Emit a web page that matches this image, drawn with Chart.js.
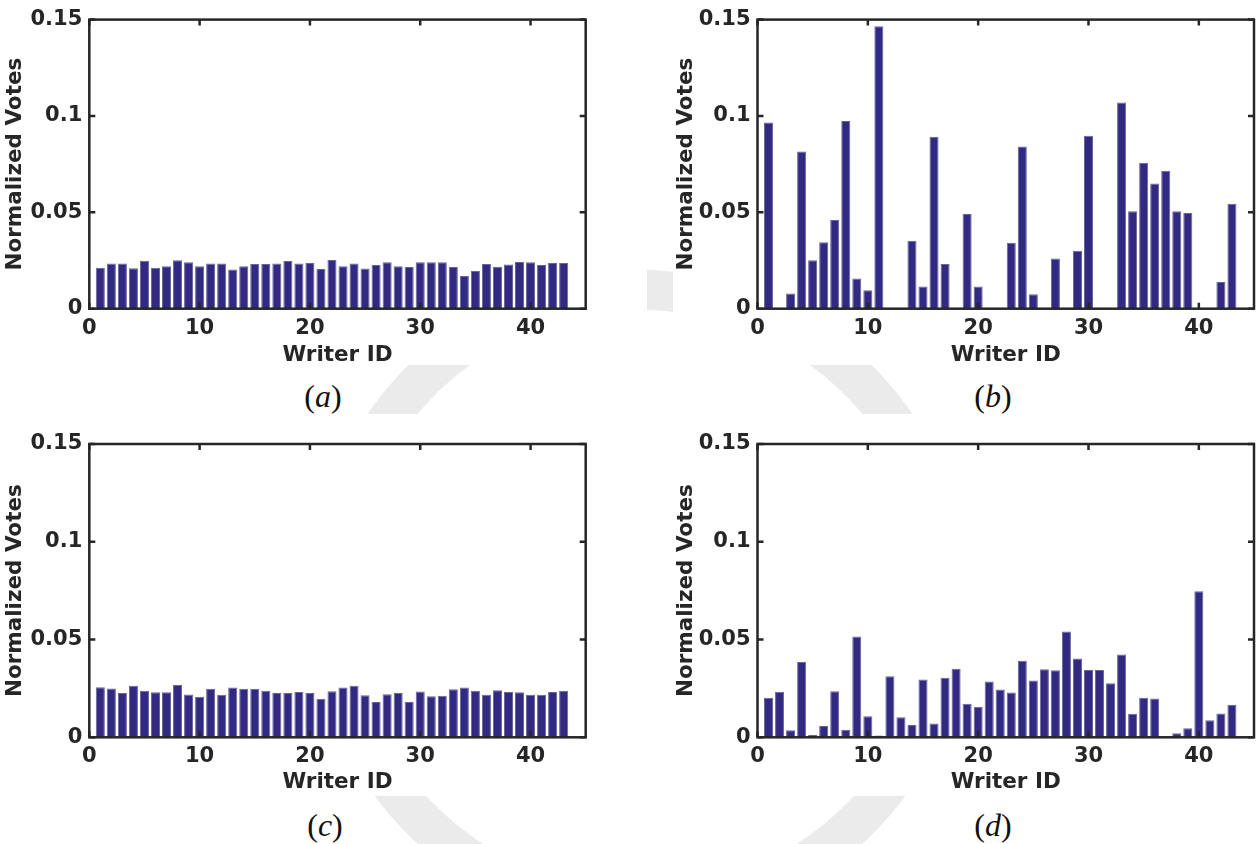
<!DOCTYPE html>
<html>
<head>
<meta charset="utf-8">
<script src="https://cdn.jsdelivr.net/npm/chart.js@4.4.1/dist/chart.umd.min.js"></script>
<style>
html,body{margin:0;padding:0;background:#fff;}
body{width:1256px;height:844px;position:relative;overflow:hidden;}
.wm{position:absolute;border-radius:50%;box-sizing:border-box;border:40px solid #ebebeb;}
.panel{position:absolute;background:#fff;}
.panel canvas{display:block;}
.cap{position:absolute;font-family:'Liberation Serif',serif;font-size:32px;line-height:1;color:#111;transform:translateX(-50%);white-space:nowrap;}
</style>
</head>
<body>
<div class="wm" style="left:310px;top:270px;width:660px;height:660px;"></div>

<div class="panel" style="left:0;top:0;width:647px;height:365px;"><canvas id="ca" width="647" height="365"></canvas></div>
<div class="panel" style="left:673px;top:0;width:583px;height:365px;"><canvas id="cb" width="583" height="365"></canvas></div>
<div class="panel" style="left:0;top:414px;width:647px;height:382px;"><canvas id="cc" width="647" height="382"></canvas></div>
<div class="panel" style="left:673px;top:414px;width:583px;height:382px;"><canvas id="cd" width="583" height="382"></canvas></div>

<div class="cap" style="left:323px;top:380px;">(<i>a</i>)</div>
<div class="cap" style="left:993px;top:380px;">(<i>b</i>)</div>
<div class="cap" style="left:325px;top:809px;">(<i>c</i>)</div>
<div class="cap" style="left:993px;top:809px;">(<i>d</i>)</div>

<script>
// ---------- data ----------
const writerIds = [1,2,3,4,5,6,7,8,9,10,11,12,13,14,15,16,17,18,19,20,21,22,23,24,25,26,27,28,29,30,31,32,33,34,35,36,37,38,39,40,41,42,43];

const votesA = [0.0213,0.0235,0.0235,0.0210,0.0249,0.0213,0.0220,0.0251,0.0241,0.0220,
                0.0234,0.0234,0.0203,0.0220,0.0232,0.0232,0.0235,0.0247,0.0235,0.0237,
                0.0206,0.0253,0.0220,0.0235,0.0208,0.0227,0.0241,0.0220,0.0217,0.0241,
                0.0241,0.0241,0.0217,0.0170,0.0196,0.0232,0.0218,0.0229,0.0242,0.0241,
                0.0227,0.0237,0.0237];

const votesB = [0.0966,0,0.0079,0.0815,0.0251,0.0345,0.0460,0.0974,0.0157,0.0096,
                0.1465,0,0,0.0352,0.0115,0.0892,0.0232,0,0.0492,0.0115,
                0,0,0.0342,0.0841,0.0075,0,0.0260,0,0.0301,0.0897,
                0,0,0.1070,0.0506,0.0757,0.0650,0.0716,0.0506,0.0496,0,
                0,0.0138,0.0545];

const votesC = [0.0256,0.0250,0.0227,0.0263,0.0238,0.0231,0.0231,0.0268,0.0219,0.0207,
                0.0248,0.0217,0.0255,0.0248,0.0248,0.0238,0.0226,0.0226,0.0232,0.0227,
                0.0197,0.0236,0.0255,0.0263,0.0215,0.0180,0.0220,0.0227,0.0181,0.0234,
                0.0210,0.0212,0.0246,0.0255,0.0238,0.0217,0.0241,0.0232,0.0231,0.0217,
                0.0217,0.0232,0.0238];

const votesD = [0.0202,0.0233,0.0036,0.0385,0.0012,0.0058,0.0235,0.0039,0.0515,0.0108,
                0.0009,0.0312,0.0103,0.0063,0.0295,0.0070,0.0305,0.0351,0.0171,0.0156,
                0.0286,0.0245,0.0229,0.0392,0.0290,0.0348,0.0343,0.0541,0.0403,0.0344,
                0.0344,0.0276,0.0423,0.0120,0.0202,0.0199,0,0.0021,0.0046,0.0747,
                0.0087,0.0122,0.0166];

const xTickValues = [0,10,20,30,40];
const yTickValues = [0,0.05,0.1,0.15];
const yTickLabels = ['0','0.05','0.1','0.15'];
const xTitle = 'Writer ID';
const yTitle = 'Normalized Votes';

// ---------- style ----------
const BAR = 'rgb(50,42,130)';
const EDGE = 'rgb(105,100,155)';
const INK = '#262626';
const FONT = 'DejaVu Sans';

const boxPlugin = {
  id: 'matlabBox',
  afterDatasetsDraw(chart) {
    const {ctx, chartArea: a, scales: {x, y}} = chart;
    ctx.save();
    ctx.strokeStyle = INK;
    ctx.lineWidth = 2.5;
    ctx.lineCap = 'butt';
    ctx.strokeRect(a.left, a.top, a.right - a.left, a.bottom - a.top);
    const L = 6;
    ctx.beginPath();
    xTickValues.forEach(v => {
      const px = x.getPixelForValue(v);
      ctx.moveTo(px, a.bottom); ctx.lineTo(px, a.bottom - L);
      ctx.moveTo(px, a.top); ctx.lineTo(px, a.top + L);
    });
    yTickValues.forEach(v => {
      const py = y.getPixelForValue(v);
      ctx.moveTo(a.left, py); ctx.lineTo(a.left + L, py);
      ctx.moveTo(a.right, py); ctx.lineTo(a.right - L, py);
    });
    ctx.stroke();
    ctx.restore();
  }
};

function makeChart(id, values, g) {
  const pts = writerIds.map((w, i) => ({x: w, y: values[i]}));
  return new Chart(document.getElementById(id), {
    type: 'bar',
    data: {datasets: [{
      data: pts,
      backgroundColor: BAR,
      borderColor: EDGE,
      borderWidth: 1,
      borderSkipped: 'start',
      barPercentage: 0.82,
      categoryPercentage: 1.0
    }]},
    options: {
      responsive: false,
      animation: false,
      events: [],
      devicePixelRatio: 1,
      plugins: {legend: {display: false}, tooltip: {enabled: false}},
      layout: {padding: {left: 0, top: g.top, right: g.right, bottom: 0}},
      scales: {
        x: {
          type: 'linear', min: 0, max: 45, offset: false,
          grid: {display: false, drawTicks: false},
          border: {display: false},
          afterBuildTicks: s => { s.ticks = xTickValues.map(v => ({value: v})); },
          afterFit: s => { s.height = g.xh; },
          ticks: {font: {family: FONT, size: 21, weight: 'bold'}, color: INK, padding: 7,
                  maxRotation: 0, autoSkip: false, callback: v => String(v)},
          title: {display: true, text: xTitle, color: INK,
                  font: {family: FONT, size: 21.5, weight: 'bold', lineHeight: 1},
                  padding: {top: 0, bottom: g.tpb}}
        },
        y: {
          type: 'linear', min: 0, max: 0.15,
          grid: {display: false, drawTicks: false},
          border: {display: false},
          afterBuildTicks: s => { s.ticks = yTickValues.map(v => ({value: v})); },
          afterFit: s => { s.width = g.yw; },
          ticks: {font: {family: FONT, size: 21, weight: 'bold'}, color: INK, padding: 7,
                  autoSkip: false, callback: (v, i) => yTickLabels[i]},
          title: {display: true, text: yTitle, color: INK,
                  font: {family: FONT, size: 21.5, weight: 'bold', lineHeight: 1},
                  padding: {top: g.ypt, bottom: 0}}
        }
      }
    },
    plugins: [boxPlugin]
  });
}

makeChart('ca', votesA, {top: 16, right: 61.3, xh: 56.3, yw: 89.3, tpb: -1, ypt: 5});
makeChart('cb', votesB, {top: 16, right: 2, xh: 56.3, yw: 84.5, tpb: -1, ypt: 3});
makeChart('cc', votesC, {top: 30, right: 61.3, xh: 58.7, yw: 89.3, tpb: 2.5, ypt: 5});
makeChart('cd', votesD, {top: 30, right: 2, xh: 58.7, yw: 84.5, tpb: 2.5, ypt: 3});
</script>
</body>
</html>
